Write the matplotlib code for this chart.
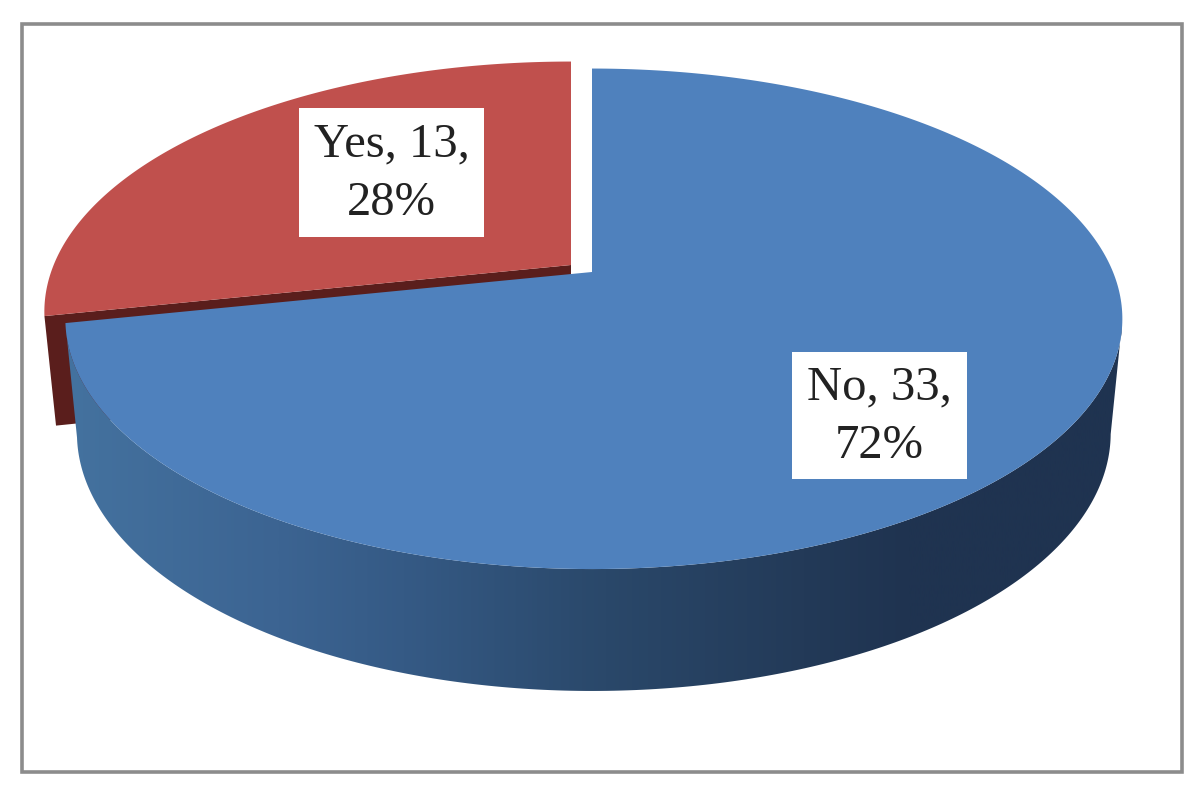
import numpy as np
import matplotlib
matplotlib.use("Agg")
import matplotlib.pyplot as plt
from matplotlib.colors import LinearSegmentedColormap
from matplotlib.patches import Polygon, Rectangle

categories = ["Yes", "No"]
values = [13, 33]

plt.rcParams["font.family"] = ["Liberation Serif", "DejaVu Serif"]

# Pixel canvas, y grows downwards like the reference image
fig = plt.figure(figsize=(11.92, 7.94), dpi=100, facecolor="white")
ax = fig.add_axes([0, 0, 1, 1])
ax.set_xlim(0, 1192)
ax.set_ylim(794, 0)
ax.axis("off")

# Perspective projection of the pie disc
CX, CY = 592, 272
RX, RY = 521, 241.5
K = 0.187
LEFT_SQUEEZE = 0.993
# Lower rim of the disc
LOW_SX, LOW_SY, LOW_DY = 0.978, 1.03, 113
# Exploded slice offset and its visible depth
EXP_DX, EXP_DY = -21, -7
RED_DEPTH = 108


def project(t_deg, r=1.0, sx=1.0, sy=1.0, dx=0.0, dy=0.0):
    # t_deg runs clockwise from 12 o'clock, k tilts the far side away
    t = np.radians(t_deg)
    u, v = r * np.sin(t), r * np.cos(t)
    u = np.where(u < 0, u * LEFT_SQUEEZE, u)
    w = 1 + K * v
    return np.column_stack((CX + dx + sx * RX * u / w, CY + dy - sy * RY * v / w))


sweep = 360.0 * values[0] / sum(values)
t_blue = np.linspace(0, 360 - sweep, 400)
t_red = np.linspace(360 - sweep, 360, 200)

# Red slice: dark cut face and rim first, the top on it, blue covers the rest
red_top = project(t_red, dx=EXP_DX, dy=EXP_DY)
red_low = project(t_red, sx=LOW_SX, sy=LOW_SY, dx=EXP_DX, dy=EXP_DY + RED_DEPTH)
apex_red = project(np.array([0.0]), r=0.0, dx=EXP_DX, dy=EXP_DY)
apex_red_low = apex_red + [0, RED_DEPTH]
dark = np.vstack((apex_red, red_top[:1], red_low[:1], apex_red_low))
ax.add_patch(Polygon(dark, closed=True, fc="#5a1e1c", ec="none", zorder=2))
ax.add_patch(Polygon(np.vstack((apex_red, red_top)), closed=True, fc="#c0504d", ec="none", zorder=3))

# Blue rim with the left to right shading, starts at the silhouette point of the disc
visible = t_blue >= np.degrees(np.arccos(-K))
blue_top = project(t_blue)
blue_low = project(t_blue, sx=LOW_SX, sy=LOW_SY, dy=LOW_DY)
side = Polygon(np.vstack((blue_top[visible], blue_low[visible][::-1])), closed=True,
               fc="none", ec="none", transform=ax.transData)
ax.add_patch(side)
shade = LinearSegmentedColormap.from_list(
    "rim", [(0.0, "#44729f"), (0.2, "#3c6492"), (0.32, "#355a85"), (0.51, "#2a486a"),
            (0.7, "#233a58"), (0.8, "#1f3350"), (1.0, "#1f3350")])
gradient = np.linspace(0, 1, 512).reshape(1, -1)
img = ax.imshow(gradient, extent=(66, 1122, 794, 0), cmap=shade, aspect="auto", zorder=4)
img.set_clip_path(side)
ax.set_xlim(0, 1192)
ax.set_ylim(794, 0)

apex_blue = project(np.array([0.0]), r=0.0)
ax.add_patch(Polygon(np.vstack((apex_blue, blue_top)), closed=True, fc="#4f81bd", ec="none", zorder=5))

# Data labels in white boxes
pcts = [round(100 * v / sum(values)) for v in values]
boxes = [(299, 108, 185, 129), (792, 352, 175, 127)]
for cat, val, pct, (bx, by, bw, bh) in zip(categories, values, pcts, boxes):
    ax.add_patch(Rectangle((bx, by), bw, bh, fc="white", ec="none", zorder=6))
    ax.text(bx + bw / 2, by + bh / 2 + 1, f"{cat}, {val},\n{pct}%", ha="center", va="center",
            fontsize=35, color="#222222", linespacing=1.42, zorder=7)

# Chart frame
ax.add_patch(Rectangle((22, 23.5), 1159.5, 748, fc="none", ec="#8c8c8c", lw=2.6, zorder=8))

fig.savefig("out.png", dpi=100)
plt.close(fig)
